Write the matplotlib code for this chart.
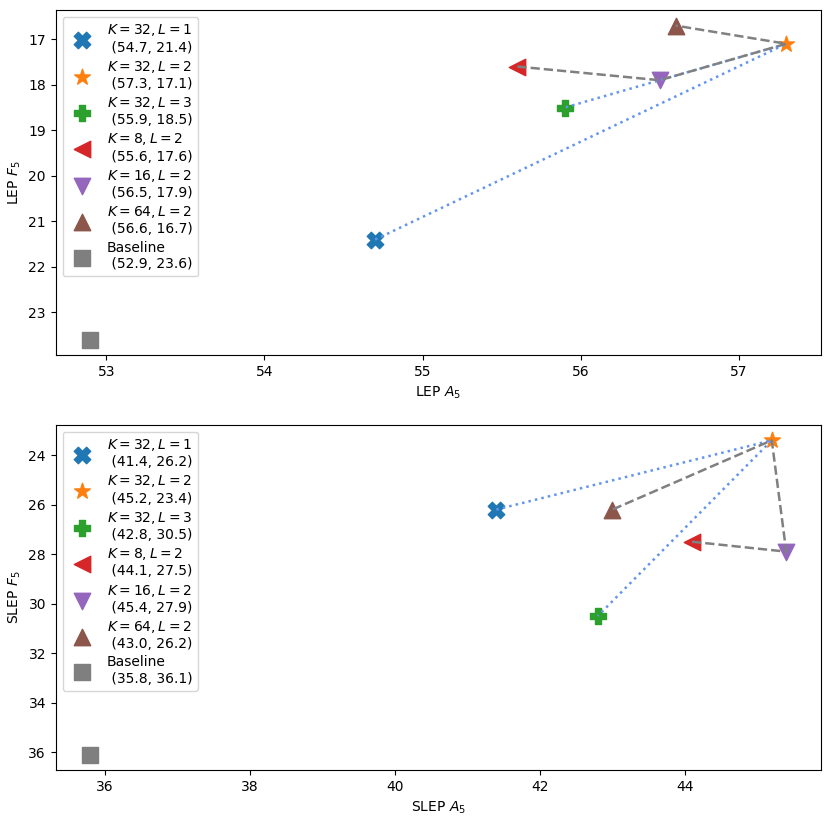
import matplotlib
matplotlib.use("Agg")
import matplotlib.pyplot as plt

# configs: (K, L)
configs = [(32, 1), (32, 2), (32, 3), (8, 2), (16, 2), (64, 2)]
markers = ["X", "*", "P", "<", "v", "^"]
colors = ["C0", "C1", "C2", "C3", "C4", "C5"]

lep_a5 = [54.7, 57.3, 55.9, 55.6, 56.5, 56.6]
lep_f5 = [21.4, 17.1, 18.5, 17.6, 17.9, 16.7]
lep_base = (52.9, 23.6)

slep_a5 = [41.4, 45.2, 42.8, 44.1, 45.4, 43.0]
slep_f5 = [26.2, 23.4, 30.5, 27.5, 27.9, 26.2]
slep_base = (35.8, 36.1)

# index paths: vary L (dotted) and vary K (dashed)
l_path = [0, 1, 2]
k_path = [3, 4, 1, 5]


def draw(ax, xs, ys, base, name):
    for i, (k, l) in enumerate(configs):
        ax.scatter(xs[i], ys[i], marker=markers[i], color=colors[i], s=140,
                   label=f"$K={k}, L={l}$\n ({xs[i]}, {ys[i]})")
    ax.scatter(base[0], base[1], marker="s", color="C7", s=140,
               label=f"Baseline\n ({base[0]}, {base[1]})")
    ax.plot([xs[i] for i in l_path], [ys[i] for i in l_path],
            ":", color="cornflowerblue", lw=1.8)
    ax.plot([xs[i] for i in k_path], [ys[i] for i in k_path],
            "--", color="gray", lw=1.8)
    ax.invert_yaxis()
    ax.set_xlabel(f"{name} $A_5$")
    ax.set_ylabel(f"{name} $F_5$")
    ax.legend(loc="upper left", labelspacing=0.3)


fig, (ax1, ax2) = plt.subplots(2, 1, figsize=(8.31, 8.22), dpi=100)
fig.subplots_adjust(left=0.067, right=0.988, top=0.988, bottom=0.063, hspace=0.2)

draw(ax1, lep_a5, lep_f5, lep_base, "LEP")
draw(ax2, slep_a5, slep_f5, slep_base, "SLEP")

fig.savefig("out.png", dpi=100)
